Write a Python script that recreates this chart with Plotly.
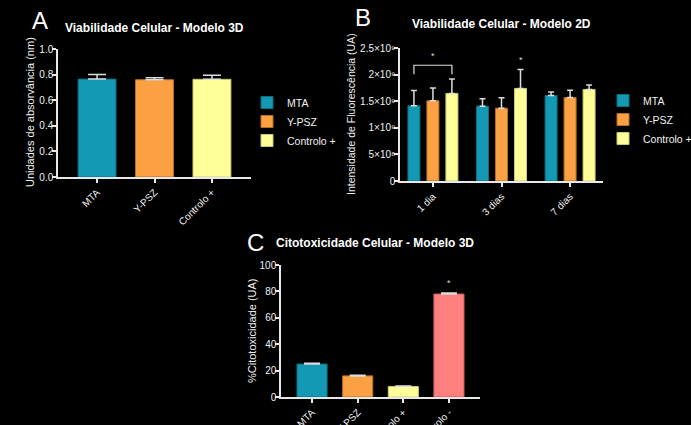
import plotly.graph_objects as go

W, H = 691, 425

# ---------------- data ----------------
groups3d = ["MTA", "Y-PSZ", "Controlo +"]
a_values = [0.765, 0.760, 0.763]
a_err = [0.035, 0.015, 0.032]

days = ["1 dia", "3 dias", "7 dias"]
b_series = ["MTA", "Y-PSZ", "Controlo +"]
b_mta = [1.413e9, 1.407e9, 1.608e9]
b_mta_err = [0.287e9, 0.138e9, 0.063e9]
b_ypsz = [1.508e9, 1.369e9, 1.570e9]
b_ypsz_err = [0.238e9, 0.195e9, 0.138e9]
b_ctrl = [1.646e9, 1.740e9, 1.721e9]
b_ctrl_err = [0.270e9, 0.358e9, 0.082e9]
b_ticks = [0, 5e8, 1e9, 1.5e9, 2e9, 2.5e9]
b_ticktext = ["0", "5×10⁸", "1×10⁹", "1.5×10⁹", "2×10⁹", "2.5×10⁹"]

c_groups = ["MTA", "Y-PSZ", "Controlo +", "Controlo -"]
c_values = [25.0, 16.0, 8.0, 78.0]
c_err = [0.6, 0.5, 0.4, 0.7]

# ---------------- styles ----------------
colors = ["#1499B4", "#FBA043", "#FFFF99", "#FF7F7F"]
edges = ["#0B6F82", "#B86E22", "#C8C870", "#C85A5A"]
FONT = "Liberation Sans, Arial, sans-serif"
AX = "#E8E8E8"
TXT = "#F0F0F0"


def px_x(x):
    return x / W


def px_y(y):
    return 1 - y / H


fig = go.Figure()

# ---- Panel A ----
for i, g in enumerate(groups3d):
    fig.add_trace(go.Bar(
        x=[g], y=[a_values[i]], name=g, xaxis="x", yaxis="y",
        width=0.66, offset=-0.33,
        marker=dict(color=colors[i], line=dict(color=edges[i], width=1)),
        error_y=dict(type="data", array=[a_err[i]], arrayminus=[0], symmetric=False,
                     color="#DDDDDD", thickness=1.5, width=9),
        legend="legend",
    ))

# ---- Panel B ----
b_vals = [b_mta, b_ypsz, b_ctrl]
b_errs = [b_mta_err, b_ypsz_err, b_ctrl_err]
bw = 0.175
shifts = [-0.277, 0.0, 0.277]
for i, s in enumerate(b_series):
    fig.add_trace(go.Bar(
        x=days, y=b_vals[i], name=s, xaxis="x2", yaxis="y2",
        width=bw, offset=shifts[i] - bw / 2,
        marker=dict(color=colors[i], line=dict(color=edges[i], width=1)),
        error_y=dict(type="data", array=b_errs[i], arrayminus=[0, 0, 0], symmetric=False,
                     color="#DDDDDD", thickness=1.5, width=3),
        legend="legend2",
    ))

# ---- Panel C ----
fig.add_trace(go.Bar(
    x=c_groups, y=c_values, xaxis="x3", yaxis="y3", showlegend=False,
    width=0.66, offset=-0.33,
    marker=dict(color=colors, line=dict(color=edges, width=1)),
    error_y=dict(type="data", array=c_err, arrayminus=[0] * 4, symmetric=False,
                 color="#DDDDDD", thickness=1.5, width=8),
))

axis_common = dict(showline=True, linecolor=AX, linewidth=1.5, ticks="outside",
                   tickcolor=AX, tickwidth=1.5, ticklen=4, showgrid=False, zeroline=False,
                   automargin=False,
                   tickfont=dict(family=FONT, size=10, color=TXT))
yextra = dict(ticklabelstandoff=-3)

fig.update_layout(
    width=W, height=H,
    margin=dict(l=0, r=0, t=0, b=0, autoexpand=False),
    paper_bgcolor="black", plot_bgcolor="black",
    font=dict(family=FONT, color="white"),
    showlegend=True,
    barmode="overlay",
    xaxis=dict(domain=[px_x(58), px_x(251)], anchor="y", range=[-0.68, 2.68],
               type="category", categoryarray=groups3d, tickangle=-45, **axis_common),
    yaxis=dict(domain=[px_y(177), px_y(49)], anchor="x", range=[0, 1.0],
               tickvals=[0, 0.2, 0.4, 0.6, 0.8, 1.0], tickformat=".1f", **axis_common, **yextra),
    xaxis2=dict(domain=[px_x(400), px_x(603)], anchor="y2", range=[-0.48, 2.48],
                type="category", categoryarray=days, tickangle=-45, **axis_common),
    yaxis2=dict(domain=[px_y(181), px_y(48)], anchor="x2", range=[0, 2.5e9],
                tickvals=b_ticks, ticktext=b_ticktext, **axis_common, **yextra),
    xaxis3=dict(domain=[px_x(281), px_x(480)], anchor="y3", range=[-0.68, 3.68],
                type="category", categoryarray=c_groups, tickangle=-45, **axis_common),
    yaxis3=dict(domain=[px_y(397), px_y(265)], anchor="x3", range=[0, 100],
                tickvals=[0, 20, 40, 60, 80, 100], **axis_common, **yextra),
    legend=dict(x=px_x(247), y=px_y(88), xanchor="left", yanchor="top",
                bgcolor="rgba(0,0,0,0)", font=dict(family=FONT, size=10.5, color=TXT),
                tracegroupgap=0, itemclick=False),
    legend2=dict(x=px_x(603), y=px_y(86), xanchor="left", yanchor="top",
                 bgcolor="rgba(0,0,0,0)", font=dict(family=FONT, size=10.5, color=TXT),
                 tracegroupgap=0, itemclick=False),
)

# titles, axis titles and panel letters
texts = [
    ("<b>Viabilidade Celular - Modelo 3D</b>", 154, 28, 12, 0),
    ("<b>Viabilidade Celular - Modelo 2D</b>", 501, 24, 12, 0),
    ("<b>Citotoxicidade Celular - Modelo 3D</b>", 375, 243, 12, 0),
    ("A", 40, 20, 24, 0),
    ("B", 363, 17, 24, 0),
    ("C", 255, 242, 24, 0),
    ("Unidades de absorvância (nm)", 30, 112, 11, -90),
    ("Intensidade de Fluorescência (UA)", 351, 114, 10.5, -90),
    ("%Citotoxicidade (UA)", 252, 331, 11, -90),
]
for t, x, y, s, ang in texts:
    fig.add_annotation(xref="paper", yref="paper", x=px_x(x), y=px_y(y), text=t,
                       textangle=ang, showarrow=False, xanchor="center", yanchor="middle",
                       font=dict(family=FONT, size=s, color="white" if ang == 0 else TXT))

# significance bracket in panel B (1 dia: MTA vs Controlo +)
top1 = max(b_mta[0] + b_mta_err[0], b_ctrl[0] + b_ctrl_err[0])
by = top1 + 0.26e9
fig.add_shape(type="path", xref="x2", yref="y2",
              path=f"M {-0.277},{by - 0.17e9} L {-0.277},{by} L {0.277},{by} L {0.277},{by - 0.17e9}",
              line=dict(color="#DDDDDD", width=1.2))
fig.add_annotation(xref="x2", yref="y2", x=0, y=by + 0.04e9, text="*", showarrow=False,
                   yanchor="bottom", font=dict(family=FONT, size=9, color="#DDDDDD"))
fig.add_annotation(xref="x2", yref="y2", x=1 + 0.277, y=b_ctrl[1] + b_ctrl_err[1] + 0.05e9, text="*",
                   showarrow=False, yanchor="bottom", font=dict(family=FONT, size=9, color="#DDDDDD"))
fig.add_annotation(xref="x3", yref="y3", x=3, y=c_values[3] + c_err[3] + 2, text="*",
                   showarrow=False, yanchor="bottom", font=dict(family=FONT, size=9, color="#DDDDDD"))

fig.write_html("out.html", config={"displayModeBar": False},
               post_script="document.body.style.margin='0';document.body.style.overflow='hidden';"
                           "document.body.style.background='black';window.scrollTo(0,0);")
